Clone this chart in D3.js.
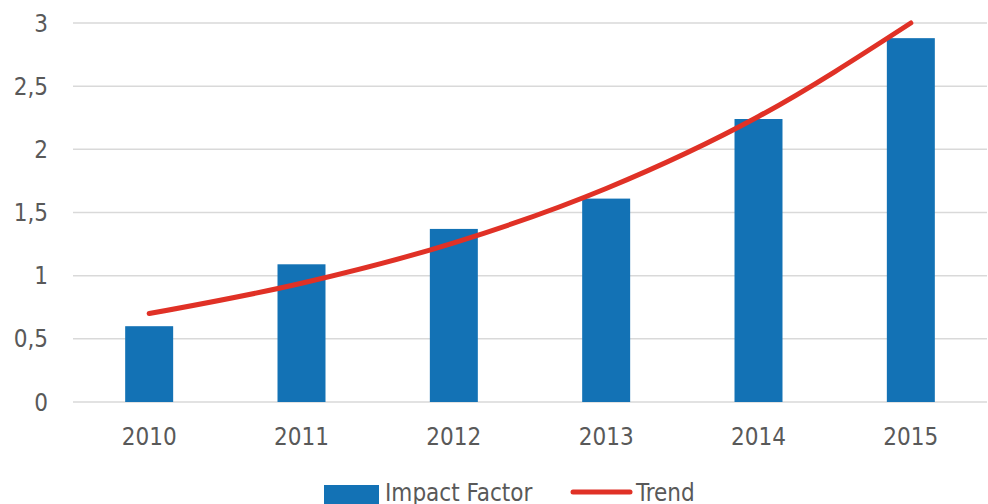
<!DOCTYPE html>
<html>
<head>
<meta charset="utf-8">
<script src="https://cdn.jsdelivr.net/npm/d3@7"></script>
<style>
  body { margin: 0; background: #fff; }
  svg text { font-family: "DejaVu Sans Condensed", "Liberation Sans", sans-serif; fill: #595959; }
</style>
</head>
<body>
<svg class="chart" width="988" height="504"></svg>
<script>
var years = ["2010", "2011", "2012", "2013", "2014", "2015"];
var impact = [0.60, 1.09, 1.37, 1.61, 2.24, 2.88];
var trend = [0.70, 0.94, 1.26, 1.69, 2.26, 3.00];
var yTicks = [0, 0.5, 1, 1.5, 2, 2.5, 3];

var svg = d3.select(".chart"),
    margin = {top: 23, right: 1, bottom: 102, left: 73},
    width = +svg.attr("width") - margin.left - margin.right,
    height = +svg.attr("height") - margin.top - margin.bottom;

var x = d3.scaleBand().domain(years).range([0, width]).paddingInner(0.685).paddingOuter(0.3425);
var y = d3.scaleLinear().domain([0, 3]).range([height, 0]);

var g = svg.append("g")
    .attr("transform", "translate(" + margin.left + "," + margin.top + ")");

// gridlines
g.selectAll(".grid")
    .data(yTicks)
  .enter().append("line")
    .attr("x1", 0)
    .attr("x2", width)
    .attr("y1", function(d) { return y(d); })
    .attr("y2", function(d) { return y(d); })
    .attr("stroke", "#d9d9d9")
    .attr("stroke-width", 1.5);

// y labels
g.selectAll(".ylab")
    .data(yTicks)
  .enter().append("text")
    .attr("x", -25)
    .attr("y", function(d) { return y(d); })
    .attr("dy", "0.36em")
    .attr("text-anchor", "end")
    .style("font-size", "24px")
    .text(function(d) { return String(d).replace(".", ","); });

// x labels
g.selectAll(".xlab")
    .data(years)
  .enter().append("text")
    .attr("x", function(d) { return x(d) + x.bandwidth() / 2; })
    .attr("y", height + 43)
    .attr("text-anchor", "middle")
    .style("font-size", "24px")
    .text(function(d) { return d; });

// bars
g.selectAll(".bar")
    .data(impact)
  .enter().append("rect")
    .attr("class", "bar")
    .attr("x", function(d, i) { return x(years[i]); })
    .attr("width", x.bandwidth())
    .attr("y", function(d) { return y(d); })
    .attr("height", function(d) { return y(0) - y(d); })
    .attr("fill", "#1372b5");

// trend line
var line = d3.line()
    .x(function(d, i) { return x(years[i]) + x.bandwidth() / 2; })
    .y(function(d) { return y(d); })
    .curve(d3.curveMonotoneX);

g.append("path")
    .datum(trend)
    .attr("d", line)
    .attr("fill", "none")
    .attr("stroke", "#e03126")
    .attr("stroke-width", 5)
    .attr("stroke-linecap", "round");

// legend
var leg = svg.append("g").attr("transform", "translate(0,492)");
leg.append("rect")
    .attr("x", 324).attr("y", -7)
    .attr("width", 55).attr("height", 20)
    .attr("fill", "#1372b5");
leg.append("text")
    .attr("x", 385).attr("y", 8.5)
    .style("font-size", "24px")
    .text("Impact Factor");
leg.append("line")
    .attr("x1", 573).attr("x2", 630)
    .attr("y1", 0).attr("y2", 0)
    .attr("stroke", "#e03126")
    .attr("stroke-width", 5)
    .attr("stroke-linecap", "round");
leg.append("text")
    .attr("x", 636).attr("y", 8.5)
    .style("font-size", "24px")
    .text("Trend");
</script>
</body>
</html>
